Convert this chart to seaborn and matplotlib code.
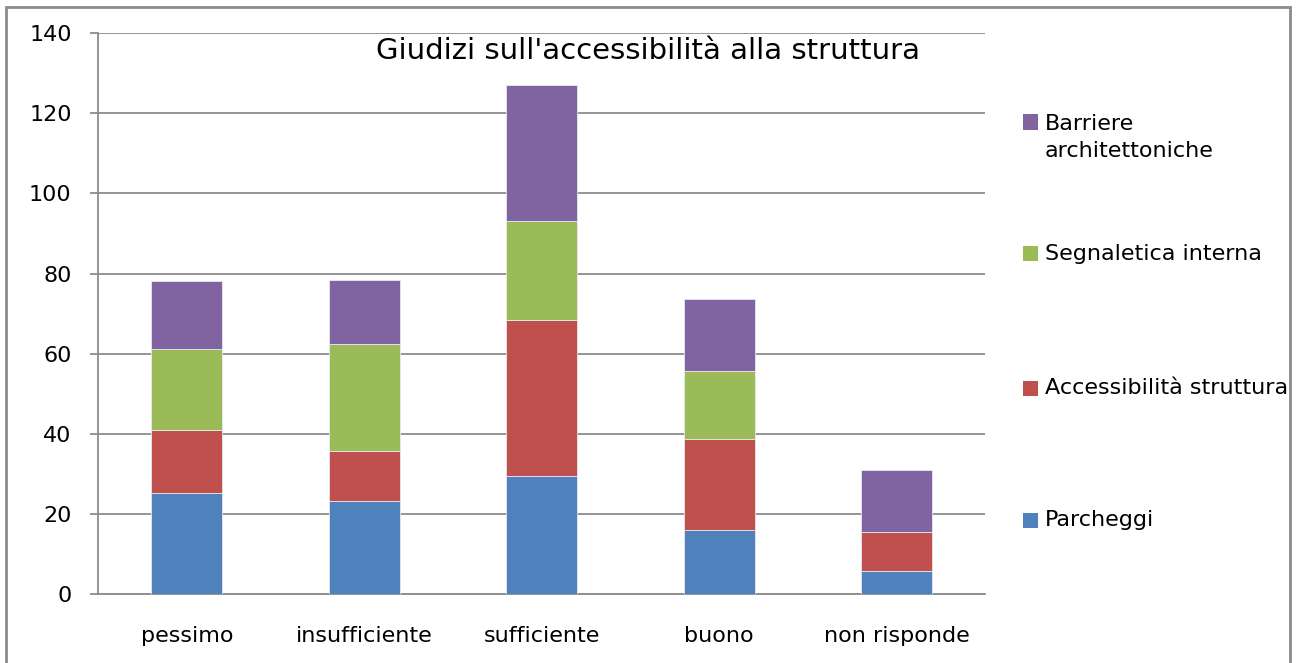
import numpy as np
import matplotlib
matplotlib.use("Agg")
import matplotlib.pyplot as plt
from matplotlib.patches import Rectangle
import seaborn as sns

# dati
categorie = ["pessimo", "insufficiente", "sufficiente", "buono", "non risponde"]
parcheggi = [25.2, 23.3, 29.5, 16.0, 5.8]
accessibilita = [15.7, 12.4, 39.0, 22.7, 9.7]
segnaletica = [20.4, 26.8, 24.7, 16.9, 0.0]
barriere = [16.9, 16.0, 33.8, 18.2, 15.5]

serie = [
    ("Parcheggi", parcheggi, "#4F81BD"),
    ("Accessibilità struttura", accessibilita, "#C0504D"),
    ("Segnaletica interna", segnaletica, "#9BBB59"),
    ("Barriere\narchitettoniche", barriere, "#8064A2"),
]

sns.set_style("white")
plt.rcParams["font.family"] = ["DejaVu Sans"]
plt.rcParams["text.color"] = "black"

W, H = 1297, 663
fig = plt.figure(figsize=(W / 100, H / 100), dpi=100)
ax = fig.add_axes([0.0756, 0.1036, 0.684, 0.8464])

# barre impilate
base = np.zeros(len(categorie))
for nome, valori, colore in serie:
    sns.barplot(x=categorie, y=valori, bottom=base, color=colore, width=0.4,
                saturation=1, errorbar=None, edgecolor="#e8e8f0", linewidth=0.6,
                ax=ax, zorder=3)
    base = base + np.array(valori)

ax.set_ylim(0, 140)
ax.set_xlim(-0.5, 4.5)
ax.set_yticks(range(0, 141, 20))
ax.yaxis.grid(True, color="#8c8c8c", linewidth=1.3, zorder=0)
ax.set_axisbelow(True)

for s in ["top", "right"]:
    ax.spines[s].set_visible(False)
for s in ["left", "bottom"]:
    ax.spines[s].set_color("#8c8c8c")
    ax.spines[s].set_linewidth(1.3)

ax.set_xticks(np.arange(-0.5, 5, 1), minor=True)
ax.tick_params(axis="x", which="major", length=0, pad=23, labelsize=16, labelcolor="black")
ax.tick_params(axis="x", which="minor", length=6, width=1.3, color="#8c8c8c", direction="out")
ax.tick_params(axis="y", length=6, width=1.3, color="#8c8c8c", direction="out",
               pad=13, labelsize=16, labelcolor="black", left=True)
ax.set_xlabel("")
ax.set_ylabel("")

ax.text(0.62, 0.968, "Giudizi sull'accessibilità alla struttura", transform=ax.transAxes,
        ha="center", va="center", fontsize=21, color="black")

# legenda (come in Excel: quadratini allineati alla prima riga)
centri_y = [520, 388, 254, 122]
for (nome, valori, colore), cy in zip(serie, centri_y):
    fig.patches.append(Rectangle((1023 / W, 1 - (cy + 7.5) / H), 15 / W, 15 / H,
                                 transform=fig.transFigure, facecolor=colore,
                                 edgecolor="none"))
    righe = nome.count("\n") + 1
    ty = cy + (righe - 1) * 31 / 2
    fig.text(1045 / W, 1 - ty / H, nome, ha="left", va="center", fontsize=16,
             linespacing=1.4, color="black")

# cornice esterna
fig.patches.append(Rectangle((0.0046, -0.02), 0.99, 1.0094, transform=fig.transFigure,
                             fill=False, edgecolor="#8c8c8c", linewidth=2))

fig.savefig("out.png", dpi=100)
